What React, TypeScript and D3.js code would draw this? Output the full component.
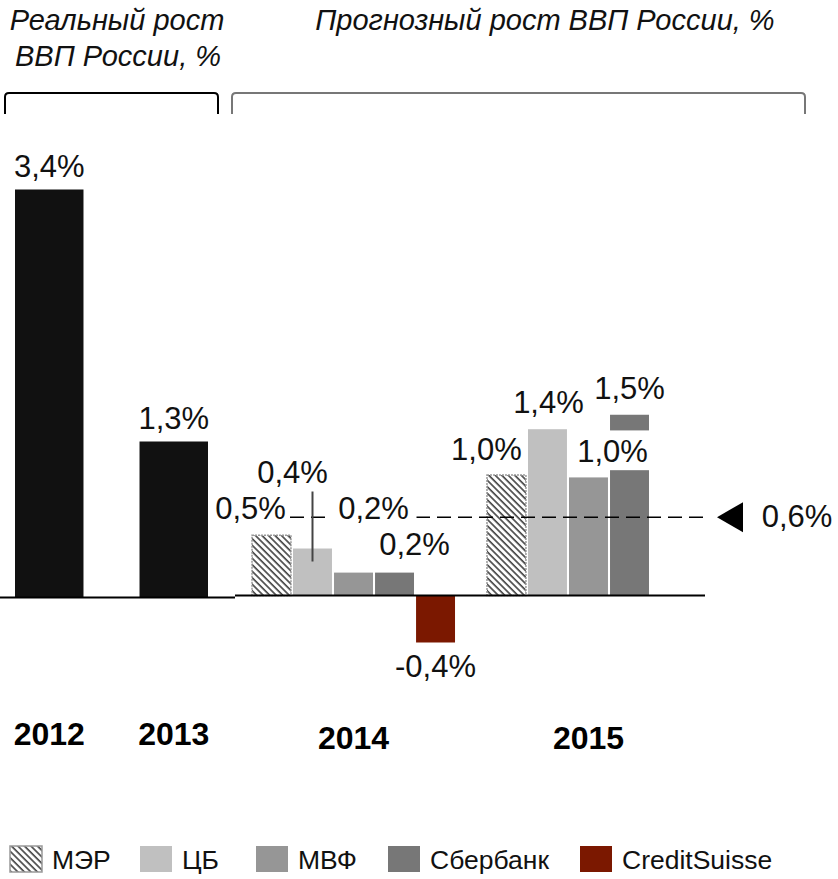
import React from "react";
import * as d3 from "d3";

// actual GDP growth
const actualYears = ["2012", "2013"];
const actualValues = [3.4, 1.3];
const actualLabels = ["3,4%", "1,3%"];

// forecasts
const forecastYears = ["2014", "2015"];
const sources = ["МЭР", "ЦБ", "МВФ", "Сбербанк", "CreditSuisse"];
const forecast2014 = [0.5, 0.39, 0.19, 0.19, -0.39];
const forecast2015 = [1.0, 1.38, 0.98, 1.04, null];
const labels2014 = ["0,5%", "0,4%", "0,2%", "0,2%", "-0,4%"];
const labels2015 = ["1,0%", "1,4%", "", "1,0%", ""];
const sberRange2015 = [1.37, 1.5];
const sberRangeLabel = "1,5%";
const averageForecast = 0.65;
const averageLabel = "0,6%";

const colors = ["url(#hatch)", "#c0c0c0", "#969696", "#777777", "#7b1800"];

// label offsets (dx from bar centre, dy from bar end)
const offsets2014 = [[-21, -16], [-20, -66], [20, -54], [20, -18], [0, 35]];
const offsets2015 = [[-20, -15], [1, -16], [0, 0], [-17, -8], [0, 0]];
const legendX = [10, 140, 256, 388, 580];

const font = "'Liberation Sans', Arial, sans-serif";

export default function App() {
  const width = 838;
  const height = 879;

  const xActual = d3.scaleBand().domain(actualYears).range([15, 208]).paddingInner(0.45).paddingOuter(0);
  const yActual = d3.scaleLinear().domain([0, 1]).range([597.5, 477.5]);

  const xGroup = d3.scaleBand().domain(forecastYears).range([252, 690]).paddingInner(0.136).paddingOuter(0);
  const xSource = d3.scaleBand().domain(sources).range([0, xGroup.bandwidth()]).paddingInner(0.05).paddingOuter(0);
  const yF = d3.scaleLinear().domain([0, 1]).range([595.5, 475]);

  const forecastRows = [
    { year: "2014", values: forecast2014, labels: labels2014, offsets: offsets2014 },
    { year: "2015", values: forecast2015, labels: labels2015, offsets: offsets2015 },
  ];

  const avgY = yF(averageForecast);
  const sberX = (xGroup("2015") ?? 0) + (xSource("Сбербанк") ?? 0);
  const cbX = (xGroup("2014") ?? 0) + (xSource("ЦБ") ?? 0) + xSource.bandwidth() / 2;
  const mvfLabelX = (xGroup("2014") ?? 0) + (xSource("МВФ") ?? 0) + xSource.bandwidth() / 2 + offsets2014[2][0];

  return (
    <svg width={width} height={height} style={{ position: "absolute", left: 0, top: 0, background: "#fff" }}>
      <defs>
        <pattern id="hatch" patternUnits="userSpaceOnUse" width="4.6" height="4.6" patternTransform="rotate(-45)">
          <rect width="4.6" height="4.6" fill="#fff" />
          <line x1="1" y1="0" x2="1" y2="4.6" stroke="#333" strokeWidth="1.5" />
        </pattern>
      </defs>

      {/* titles */}
      <g fontFamily={font} fontStyle="italic" fontSize={29} fill="#111" textAnchor="middle">
        <text x={117} y={30}>Реальный рост</text>
        <text x={118} y={66}>ВВП России, %</text>
        <text x={545} y={30}>Прогнозный рост ВВП России, %</text>
      </g>

      {/* brackets */}
      <path d="M5,114 L5,97 Q5,93 9,93 L214,93 Q218,93 218,97 L218,114" fill="none" stroke="#000" strokeWidth={2} />
      <path d="M232,114 L232,97 Q232,93 236,93 L801,93 Q805,93 805,97 L805,114" fill="none" stroke="#777" strokeWidth={2} />

      {/* actual bars */}
      {actualYears.map((yr, i) => (
        <g key={yr}>
          <rect
            x={xActual(yr)}
            y={yActual(actualValues[i])}
            width={xActual.bandwidth()}
            height={yActual(0) - yActual(actualValues[i])}
            fill="#111"
          />
          <text
            x={(xActual(yr) ?? 0) + xActual.bandwidth() / 2}
            y={yActual(actualValues[i]) - 13}
            textAnchor="middle"
            fontFamily={font}
            fontSize={31}
            fill="#111"
          >
            {actualLabels[i]}
          </text>
          <text
            x={(xActual(yr) ?? 0) + xActual.bandwidth() / 2}
            y={745}
            textAnchor="middle"
            fontFamily={font}
            fontWeight="bold"
            fontSize={32}
            fill="#000"
          >
            {yr}
          </text>
        </g>
      ))}
      <line x1={0} x2={235} y1={yActual(0)} y2={yActual(0)} stroke="#000" strokeWidth={2} />

      {/* forecast bars */}
      {forecastRows.map((row) => (
        <g key={row.year} transform={`translate(${xGroup(row.year)},0)`}>
          {row.values.map((v, i) =>
            v === null ? null : (
              <rect
                key={sources[i]}
                x={xSource(sources[i])}
                y={yF(Math.max(0, v))}
                width={xSource.bandwidth()}
                height={Math.abs(yF(v) - yF(0))}
                fill={colors[i]}
                stroke={i === 0 ? "#999" : "none"}
                strokeWidth={i === 0 ? 1.5 : 0}
                strokeDasharray={i === 0 ? "2 1" : undefined}
              />
            )
          )}
          <text
            x={xGroup.bandwidth() / 2}
            y={749}
            textAnchor="middle"
            fontFamily={font}
            fontWeight="bold"
            fontSize={32}
            fill="#000"
          >
            {row.year}
          </text>
        </g>
      ))}

      {/* Sberbank 2015 upper range */}
      <rect
        x={sberX}
        y={yF(sberRange2015[1])}
        width={xSource.bandwidth()}
        height={yF(sberRange2015[0]) - yF(sberRange2015[1])}
        fill="#777777"
      />

      <line x1={235} x2={705} y1={yF(0)} y2={yF(0)} stroke="#000" strokeWidth={2} />

      {/* average line */}
      <line x1={290} x2={706} y1={avgY} y2={avgY} stroke="#000" strokeWidth={1.6} strokeDasharray="14 7" />
      <rect x={mvfLabelX - 44} y={avgY - 5} width={87} height={10} fill="#fff" />
      <path d={`M717,${avgY} L743,${avgY - 15} L743,${avgY + 15} Z`} fill="#000" />
      <text x={797} y={avgY + 10} textAnchor="middle" fontFamily={font} fontSize={31} fill="#111">
        {averageLabel}
      </text>

      {/* ЦБ 2014 leader */}
      <line x1={cbX} x2={cbX} y1={yF(forecast2014[1]) + 13} y2={yF(forecast2014[1]) - 57} stroke="#444" strokeWidth={2} />

      {/* forecast labels */}
      {forecastRows.map((row) =>
        row.values.map((v, i) => {
          if (v === null || !row.labels[i]) return null;
          const cx = (xGroup(row.year) ?? 0) + (xSource(sources[i]) ?? 0) + xSource.bandwidth() / 2;
          const [dx, dy] = row.offsets[i];
          return (
            <text
              key={row.year + sources[i]}
              x={cx + dx}
              y={yF(v) + dy}
              textAnchor="middle"
              fontFamily={font}
              fontSize={31}
              fill="#111"
            >
              {row.labels[i]}
            </text>
          );
        })
      )}
      <text
        x={sberX + xSource.bandwidth() / 2}
        y={yF(sberRange2015[1]) - 16}
        textAnchor="middle"
        fontFamily={font}
        fontSize={31}
        fill="#111"
      >
        {sberRangeLabel}
      </text>

      {/* legend */}
      {sources.map((s, i) => (
        <g key={s} transform={`translate(${legendX[i]},846)`}>
          <rect
            width={32}
            height={26}
            fill={colors[i]}
            stroke={i === 0 ? "#999" : "none"}
            strokeWidth={i === 0 ? 1.5 : 0}
          />
          <text x={42} y={23} fontFamily={font} fontSize={26.5} fill="#111">
            {s}
          </text>
        </g>
      ))}
    </svg>
  );
}
